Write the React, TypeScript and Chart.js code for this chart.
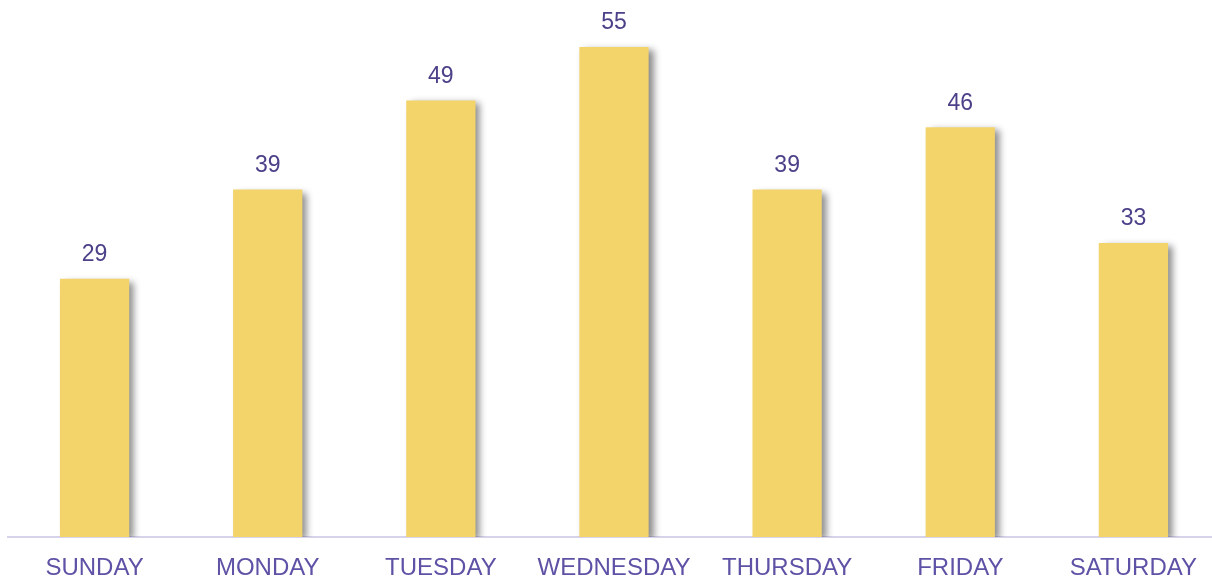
import React, { useEffect, useRef } from "react";
import { Chart, registerables } from "chart.js";

Chart.register(...registerables);

const days = ["SUNDAY", "MONDAY", "TUESDAY", "WEDNESDAY", "THURSDAY", "FRIDAY", "SATURDAY"];
const values = [29, 39, 49, 55, 39, 46, 33];

const shadowPlugin = {
  id: "barShadow",
  beforeDatasetsDraw(chart: any) {
    const ctx = chart.ctx;
    ctx.save();
    ctx.shadowColor = "rgba(0,0,0,0.45)";
    ctx.shadowBlur = 7;
    ctx.shadowOffsetX = 5;
    ctx.shadowOffsetY = 3;
  },
  afterDatasetsDraw(chart: any) {
    chart.ctx.restore();
  },
};

const valueLabelPlugin = {
  id: "valueLabels",
  afterDraw(chart: any) {
    const ctx = chart.ctx;
    const meta = chart.getDatasetMeta(0);
    ctx.save();
    ctx.fillStyle = "#4B4189";
    ctx.font = "23px 'Liberation Sans', Arial, sans-serif";
    ctx.textAlign = "center";
    ctx.textBaseline = "middle";
    meta.data.forEach((bar: any, i: number) => {
      ctx.fillText(String(values[i]), bar.x, bar.y - 24);
    });
    ctx.restore();
  },
};

export default function App() {
  const ref = useRef<HTMLCanvasElement | null>(null);
  useEffect(() => {
    if (!ref.current) return;
    const chart = new Chart(ref.current, {
      type: "bar",
      data: {
        labels: days,
        datasets: [
          {
            data: values,
            backgroundColor: "#F2D46B",
            borderWidth: 0,
            categoryPercentage: 1,
            barPercentage: 0.4,
          },
        ],
      },
      options: {
        animation: false,
        responsive: false,
        maintainAspectRatio: false,
        layout: { padding: { left: 8, right: 0, top: 2.5, bottom: 0 } },
        plugins: { legend: { display: false }, tooltip: { enabled: false } },
        scales: {
          x: {
            grid: { display: false, drawTicks: false },
            border: { display: true, color: "#D6D3EA", width: 2 },
            afterFit: (scale: any) => {
              scale.height = 44;
            },
            ticks: {
              color: "#5E52A6",
              padding: 17,
              font: { family: "'Liberation Sans', Arial, sans-serif", size: 24 },
              maxRotation: 0,
              autoSkip: false,
            },
          },
          y: { display: false, min: 0, max: 60 },
        },
      },
      plugins: [shadowPlugin, valueLabelPlugin],
    });
    return () => chart.destroy();
  }, []);
  return (
    <div style={{ position: "fixed", left: 0, top: 0, width: 1212, height: 581, overflow: "hidden", background: "#fff" }}>
      <canvas ref={ref} width={1220} height={581} style={{ display: "block" }} />
    </div>
  );
}
